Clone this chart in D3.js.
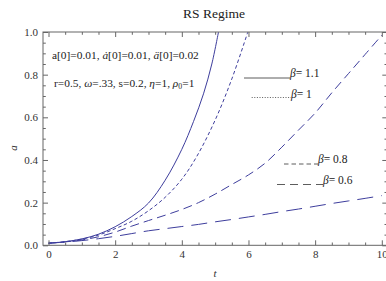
<!DOCTYPE html>
<html>
<head>
<meta charset="utf-8">
<script src="https://cdn.jsdelivr.net/npm/d3@7"></script>
<style>
  body { margin: 0; background: #fff; }
  svg { display: block; }
  svg text { font-family: "Liberation Serif", serif; }
  .axis line { stroke: #666; }
  .axis text { fill: #333; font-size: 11px; }
</style>
</head>
<body>
<div id="chart"></div>
<script>
// values
const betaLabels = ['1.1', '1', '0.8', '0.6'];
const tB11 = [0, 0.5, 1, 1.5, 2, 2.5, 3, 3.5, 4, 4.35, 4.65, 4.9, 5.1];
const aB11 = [0.010, 0.017, 0.030, 0.052, 0.087, 0.135, 0.198, 0.305, 0.45, 0.58, 0.71, 0.85, 1.0];
const tB10 = [0, 0.5, 1, 1.5, 2, 2.5, 3, 3.5, 4, 4.45, 5, 5.5, 5.98];
const aB10 = [0.010, 0.017, 0.029, 0.048, 0.078, 0.113, 0.162, 0.225, 0.31, 0.417, 0.587, 0.78, 1.0];
const tB08 = [0, 0.5, 1, 1.5, 2, 2.5, 3, 3.5, 4, 4.5, 5, 5.5, 6, 6.5, 7, 7.5, 8, 8.5, 9, 9.5, 10];
const aB08 = [0.010, 0.016, 0.025, 0.040, 0.062, 0.090, 0.116, 0.141, 0.168, 0.200, 0.240, 0.285, 0.330, 0.385, 0.460, 0.540, 0.620, 0.715, 0.805, 0.895, 0.985];
const tB06 = [0, 0.5, 1, 1.5, 2, 2.5, 3, 3.5, 4, 4.5, 5, 5.5, 6, 6.5, 7, 7.5, 8, 8.5, 9, 9.5, 10];
const aB06 = [0.010, 0.015, 0.022, 0.031, 0.042, 0.055, 0.068, 0.078, 0.088, 0.098, 0.110, 0.121, 0.133, 0.145, 0.158, 0.170, 0.183, 0.196, 0.208, 0.220, 0.233];
const xMajor = [0, 2, 4, 6, 8, 10];
const yMajor = [0, 0.2, 0.4, 0.6, 0.8, 1.0];

const W = 386, H = 281;
const x = d3.scaleLinear().domain([0, 10]).range([48.5, 381.8]);
const y = d3.scaleLinear().domain([0, 1]).range([245.3, 32]);
const pad = 0.165;
const xL = x(-pad), xR = x(10 + pad);

const svg = d3.select('#chart').append('svg').attr('width', W).attr('height', H);

const col = '#3d3d9c';
const series = [
  { t: tB11, a: aB11, dash: null },
  { t: tB10, a: aB10, dash: '3.5,2.5' },
  { t: tB08, a: aB08, dash: '9,5' },
  { t: tB06, a: aB06, dash: '16,8' }
];

svg.append('clipPath').attr('id', 'clip').append('rect')
  .attr('x', xL).attr('y', y(1)).attr('width', xR - xL).attr('height', y(0) - y(1));

const line = d3.line().x(d => x(d[0])).y(d => y(d[1])).curve(d3.curveCatmullRom);
const g = svg.append('g').attr('clip-path', 'url(#clip)');
series.forEach(s => {
  g.append('path').datum(s.t.map((t, i) => [t, s.a[i]]))
    .attr('fill', 'none').attr('stroke', col).attr('stroke-width', 1)
    .attr('stroke-dasharray', s.dash).attr('d', line);
});

// frame with inward ticks
const minorX = d3.range(0, 10.01, 0.5).filter(v => !xMajor.includes(v));
const minorY = d3.range(0, 1.001, 0.05).map(v => +v.toFixed(2)).filter(v => !yMajor.some(m => Math.abs(m - v) < 1e-6));

function ticks(axisFn, scale, major, minor, tf, labels) {
  const a = axisFn(scale).tickValues(major).tickSize(-5).tickSizeOuter(0).tickPadding(labels ? 5 : 0);
  a.tickFormat(labels ? tf : () => '');
  const b = axisFn(scale).tickValues(minor).tickSize(-2.8).tickSizeOuter(0).tickFormat(() => '');
  return [a, b];
}

const [bx1, bx2] = ticks(d3.axisBottom, x, xMajor, minorX, d3.format('d'), true);
svg.append('g').attr('class', 'axis').attr('transform', `translate(0,${y(0)})`).call(bx1);
svg.append('g').attr('class', 'axis').attr('transform', `translate(0,${y(0)})`).call(bx2);
const [tx1, tx2] = ticks(d3.axisTop, x, xMajor, minorX, null, false);
svg.append('g').attr('class', 'axis').attr('transform', `translate(0,${y(1)})`).call(tx1);
svg.append('g').attr('class', 'axis').attr('transform', `translate(0,${y(1)})`).call(tx2);
const [ly1, ly2] = ticks(d3.axisLeft, y, yMajor, minorY, d3.format('.1f'), true);
svg.append('g').attr('class', 'axis').attr('transform', `translate(${xL},0)`).call(ly1);
svg.append('g').attr('class', 'axis').attr('transform', `translate(${xL},0)`).call(ly2);
const [ry1, ry2] = ticks(d3.axisRight, y, yMajor, minorY, null, false);
svg.append('g').attr('class', 'axis').attr('transform', `translate(${xR},0)`).call(ry1);
svg.append('g').attr('class', 'axis').attr('transform', `translate(${xR},0)`).call(ry2);
svg.selectAll('.axis .domain').remove();
svg.selectAll('.axis').attr('font-family', null);
svg.append('rect').attr('x', xL).attr('y', y(1)).attr('width', xR - xL).attr('height', y(0) - y(1))
  .attr('fill', 'none').attr('stroke', '#666').attr('stroke-width', 1);

// titles
svg.append('text').attr('x', 214).attr('y', 18).attr('text-anchor', 'middle')
  .attr('font-size', 13.5).attr('fill', '#222').text('RS Regime');
svg.append('text').attr('x', 215).attr('y', 277).attr('text-anchor', 'middle')
  .attr('font-size', 11).attr('font-style', 'italic').attr('fill', '#333').text('t');
svg.append('text').attr('transform', 'translate(17,148) rotate(-90)').attr('text-anchor', 'middle')
  .attr('font-size', 11).attr('font-style', 'italic').attr('fill', '#333').text('a');

// parameter notes
const n1 = svg.append('text').attr('x', 52).attr('y', 59).attr('font-size', 11.4).attr('fill', '#222');
n1.append('tspan').text('a[0]=0.01, ');
n1.append('tspan').attr('font-style', 'italic').text('\u0227');
n1.append('tspan').text('[0]=0.01, ');
n1.append('tspan').attr('font-style', 'italic').text('\u00e4');
n1.append('tspan').text('[0]=0.02');
const n2 = svg.append('text').attr('x', 54).attr('y', 87).attr('font-size', 11.4).attr('fill', '#222');
n2.append('tspan').text('r=0.5, ');
n2.append('tspan').attr('font-style', 'italic').text('\u03c9');
n2.append('tspan').text('=.33, s=0.2, ');
n2.append('tspan').attr('font-style', 'italic').text('\u03b7');
n2.append('tspan').text('=1, ');
n2.append('tspan').attr('font-style', 'italic').text('\u03c1');
n2.append('tspan').attr('font-size', 7.8).attr('dy', 2).text('0');
n2.append('tspan').attr('dy', -2).text('=1');

// legend
const leg = [
  { x0: 244, x1: 290, ly: 78, ty: 77, dash: null },
  { x0: 251.7, x1: 291, ly: 97.5, ty: 98, dash: '1,1.6' },
  { x0: 284, x1: 318, ly: 164, ty: 163, dash: '4.5,3' },
  { x0: 277, x1: 323, ly: 184.5, ty: 184, dash: '8,5' }
];
leg.forEach((l, i) => {
  svg.append('line').attr('x1', l.x0).attr('x2', l.x1).attr('y1', l.ly).attr('y2', l.ly)
    .attr('stroke', '#333').attr('stroke-width', 0.8).attr('stroke-dasharray', l.dash);
  const t = svg.append('text').attr('x', l.x1).attr('y', l.ty).attr('font-size', 11.5).attr('fill', '#222');
  t.append('tspan').attr('font-style', 'italic').text('\u03b2');
  t.append('tspan').text('= ' + betaLabels[i]);
});
</script>
</body>
</html>
